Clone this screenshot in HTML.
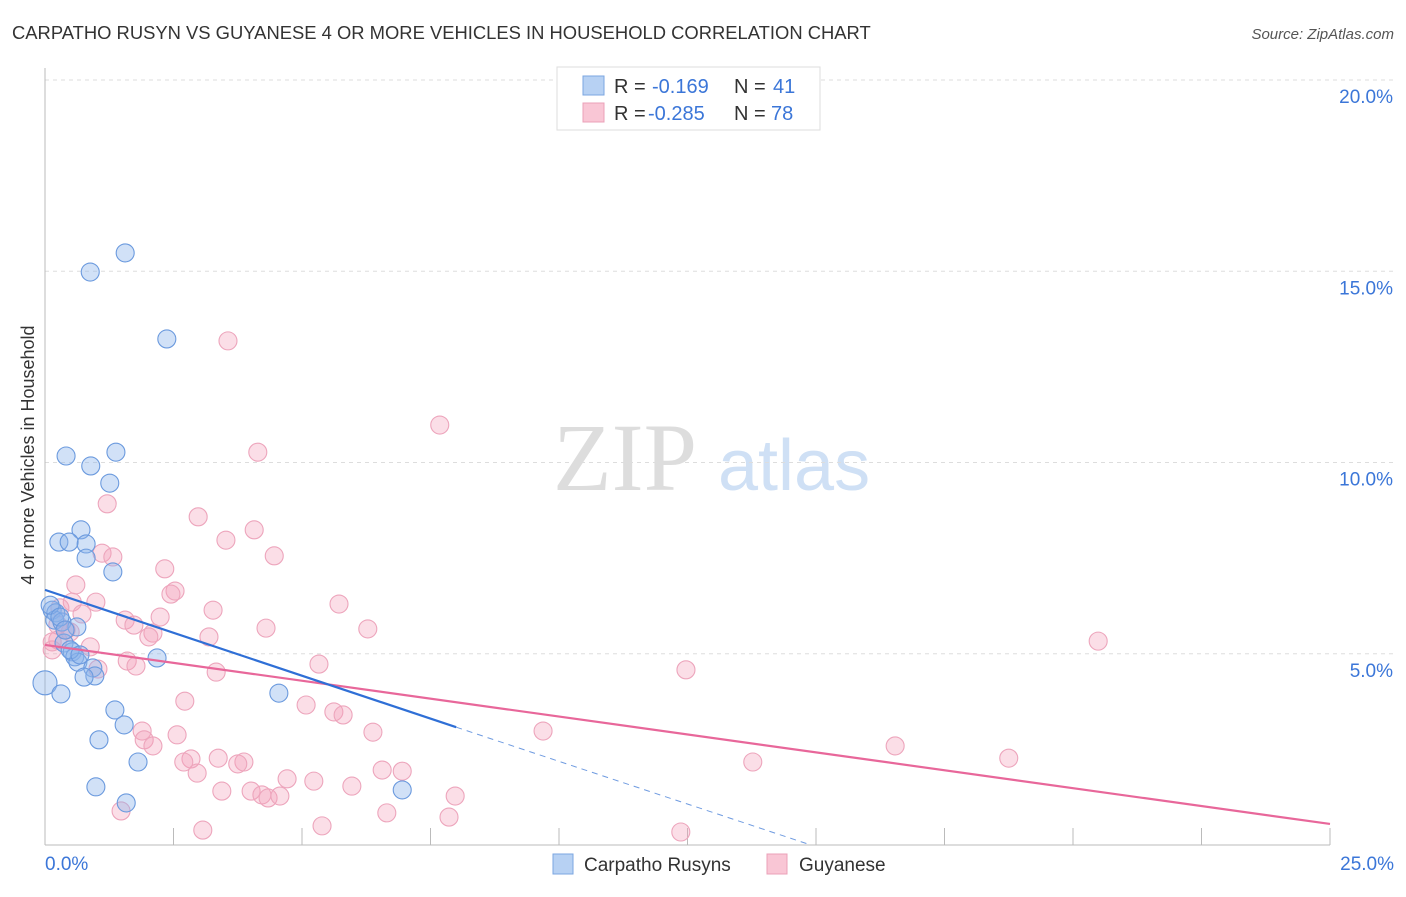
<!DOCTYPE html>
<html><head><meta charset="utf-8"><style>
body{margin:0;background:#fff;font-family:"Liberation Sans",sans-serif;}
svg text{font-family:"Liberation Sans",sans-serif;}
</style></head><body>
<svg width="1406" height="892" id="chart">
<text x="12" y="39" font-size="18.4" fill="#333">CARPATHO RUSYN VS GUYANESE 4 OR MORE VEHICLES IN HOUSEHOLD CORRELATION CHART</text>
<text x="1394" y="39" font-size="15" fill="#555" font-style="italic" text-anchor="end">Source: ZipAtlas.com</text>
<text transform="translate(34,455) rotate(-90)" font-size="18" fill="#333" text-anchor="middle">4 or more Vehicles in Household</text>
<g>
<text x="553" y="490" font-size="96" fill="#ddd" font-family="Liberation Serif" style="font-family:'Liberation Serif',serif">ZIP</text>
<text x="718" y="490" font-size="72" fill="#cfe0f5">atlas</text>
</g>
<g id="grid"></g><g id="axes"></g><g id="pts"></g><g id="lines"></g>
<g>
<rect x="557" y="67" width="263" height="63" fill="#fff" stroke="#ddd"/>
<rect x="583" y="76" width="21" height="19" fill="#b7d1f3" stroke="#7ba6e0"/>
<rect x="583" y="103" width="21" height="19" fill="#f9c6d5" stroke="#eba0b8"/>
<text x="614" y="93" font-size="20" fill="#333">R = <tspan x="652" fill="#3b76d8">-0.169</tspan><tspan x="734">N = </tspan><tspan x="773" fill="#3b76d8">41</tspan></text>
<text x="614" y="120" font-size="20" fill="#333">R = <tspan x="648" fill="#3b76d8">-0.285</tspan><tspan x="734">N = </tspan><tspan x="771" fill="#3b76d8">78</tspan></text>
</g>
<g>
<rect x="553" y="854" width="20" height="20" fill="#b7d1f3" stroke="#7ba6e0"/>
<text x="584" y="871" font-size="19" fill="#333">Carpatho Rusyns</text>
<rect x="767" y="854" width="20" height="20" fill="#f9c6d5" stroke="#eba0b8"/>
<text x="799" y="871" font-size="19" fill="#333">Guyanese</text>
</g>
</svg>
<script>
const blueX=[1.56,0.88,2.37,0.41,1.38,0.89,1.26,0.70,0.27,0.47,0.80,0.80,1.32,0.14,0.21,0.19,0.33,0.62,0.37,0.53,0.58,0.64,0.93,0.97,0.76,0.0,0.31,2.18,1.36,1.54,1.05,1.81,0.99,1.58,4.55,6.95,0.10,0.29,0.49,0.68,0.39];
const blueY=[15.48,14.98,13.23,10.17,10.27,9.91,9.46,8.24,7.92,7.92,7.87,7.50,7.14,6.14,6.07,5.88,5.83,5.70,5.28,5.05,4.92,4.78,4.63,4.42,4.39,4.24,3.95,4.89,3.53,3.14,2.75,2.17,1.52,1.10,3.97,1.44,6.27,5.96,5.10,4.97,5.62];
const pinkX=[3.56,7.68,4.14,1.21,2.98,4.07,3.52,1.11,1.32,4.46,2.33,0.60,2.53,2.45,0.99,0.53,5.72,3.27,0.72,2.24,1.56,1.73,0.25,6.28,4.30,2.10,3.19,2.02,0.88,0.14,1.60,5.33,1.77,3.33,12.47,20.49,1.03,2.72,5.08,5.62,5.80,9.69,6.38,1.89,2.57,1.93,2.10,16.54,3.37,2.84,2.70,3.87,3.75,2.96,13.77,18.75,6.56,6.95,4.71,5.23,3.44,4.01,5.97,4.22,4.34,4.57,7.98,1.48,6.65,7.86,3.07,5.39,12.37,0.25,0.41,0.29,0.49,0.14];
const pinkY=[13.18,10.98,10.27,8.92,8.58,8.24,7.97,7.63,7.53,7.56,7.22,6.80,6.64,6.56,6.35,6.35,6.30,6.14,6.04,5.96,5.88,5.75,5.75,5.65,5.67,5.54,5.44,5.44,5.18,5.10,4.81,4.73,4.68,4.52,4.58,5.33,4.60,3.76,3.66,3.48,3.40,2.98,2.95,2.98,2.88,2.75,2.59,2.59,2.27,2.25,2.17,2.17,2.12,1.88,2.17,2.27,1.96,1.93,1.73,1.67,1.41,1.41,1.54,1.31,1.23,1.28,1.28,0.89,0.84,0.73,0.39,0.50,0.34,5.36,5.62,6.20,5.57,5.31];
const yTicks=[5,10,15,20];
const yTickLabels=["5.0%","10.0%","15.0%","20.0%"];
const blueFit=[6.67,3.08,8.0,14.9];
const pinkFit=[5.23,0.55];
const sx=v=>45+v*51.4, sy=v=>845-v*38.25;
const NS="http://www.w3.org/2000/svg";
function mk(t,a,p){const e=document.createElementNS(NS,t);for(const k in a)e.setAttribute(k,a[k]);p.appendChild(e);return e;}
const grid=document.getElementById('grid'),axes=document.getElementById('axes');
yTicks.forEach((t,i)=>{
 const l=mk('line',{x1:45,x2:1394,y1:sy(t),y2:sy(t),stroke:'#ddd','stroke-dasharray':'4,4'},grid);
 
 
 const tx=mk('text',{x:1393,y:sy(t)+23,'font-size':19,fill:'#3b76d8','text-anchor':'end'},axes);
 tx.textContent=yTickLabels[i];
 
 
});
const ya=mk('line',{x1:45,x2:45,y1:68,y2:845,stroke:'#bbb'},axes);


const xa=mk('line',{x1:45,x2:1330,y1:845,y2:845,stroke:'#bbb'},axes);


for(let i=1;i<=10;i++){const t=mk('line',{x1:sx(i*2.5),x2:sx(i*2.5),y1:828,y2:845,stroke:'#bbb'},axes);
 
 }
const x0=mk('text',{x:45,y:870,'font-size':19,fill:'#3b76d8'},axes);x0.textContent='0.0%';


const x1=mk('text',{x:1394,y:870,'font-size':19,fill:'#3b76d8','text-anchor':'end'},axes);x1.textContent='25.0%';


const pts=document.getElementById('pts');
pinkX.forEach((x,i)=>{const c=mk('circle',{cx:sx(x),cy:sy(pinkY[i]),r:9,fill:'rgba(244,160,186,0.35)',stroke:'#eda5bc','stroke-width':1.1},pts);
 
 });
blueX.forEach((x,i)=>{const c=mk('circle',{cx:sx(x),cy:sy(blueY[i]),r:x===0?12:9,fill:'rgba(140,180,235,0.4)',stroke:'#6b9ade','stroke-width':1.1},pts);
 
 });
const lines=document.getElementById('lines');
const pl=mk('line',{x1:sx(0),y1:sy(pinkFit[0]),x2:sx(25),y2:sy(pinkFit[1]),stroke:'#e8679a','stroke-width':2.2},lines);


const bl=mk('line',{x1:sx(0),y1:sy(blueFit[0]),x2:sx(blueFit[2]),y2:sy(blueFit[1]),stroke:'#2f6fd6','stroke-width':2.2},lines);


const bd=mk('line',{x1:sx(blueFit[2]),y1:sy(blueFit[1]),x2:sx(blueFit[3]),y2:sy(0),stroke:'#6f9be0','stroke-width':1,'stroke-dasharray':'6,5'},lines);


</script>
</body></html>
